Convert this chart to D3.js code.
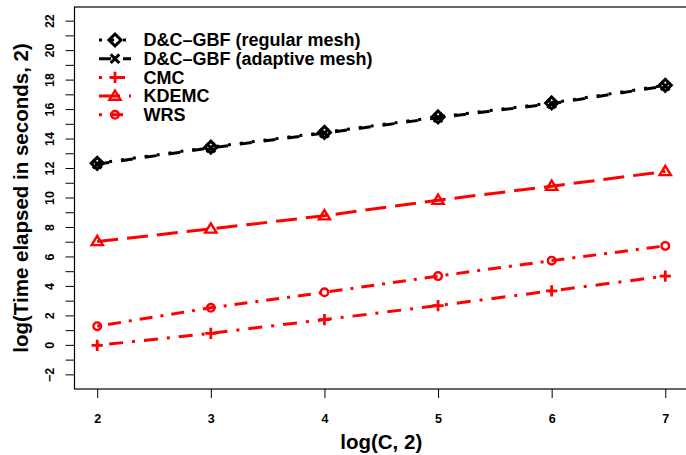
<!DOCTYPE html>
<html>
<head>
<meta charset="utf-8">
<script src="https://cdn.jsdelivr.net/npm/d3@7"></script>
<style>
  body { margin: 0; background: #fff; }
  svg { display: block; font-family: "Liberation Sans", Arial, sans-serif; font-weight: bold; }
</style>
</head>
<body>
<svg id="canvas"></svg>
<script>
// data
const cValues = [2, 3, 4, 5, 6, 7];
const regularMesh = [12.35, 13.45, 14.45, 15.5, 16.45, 17.65];
const adaptiveMesh = [12.3, 13.4, 14.4, 15.45, 16.4, 17.6];
const cmc = [0.0, 0.82, 1.75, 2.7, 3.7, 4.7];
const kdemc = [7.05, 7.9, 8.8, 9.85, 10.8, 11.8];
const wrs = [1.3, 2.55, 3.6, 4.7, 5.75, 6.75];

const seriesNames = ['D&C\u2013GBF (regular mesh)', 'D&C\u2013GBF (adaptive mesh)', 'CMC', 'KDEMC', 'WRS'];
const xTicks = [2, 3, 4, 5, 6, 7];
const yTicks = d3.range(-2, 23);

let width = 686;
let height = 455;
let plotLeft = 74.5, plotRight = 688, plotTop = 7, plotBottom = 389;

let canvas = d3.select('#canvas').attr('width', width).attr('height', height);

let xScale = d3.scaleLinear().domain([1.8, 7.2]).range([plotLeft, plotRight]);
let yScale = d3.scaleLinear().domain([-2.96, 22.96]).range([plotBottom, plotTop]);

// marker shapes (R pch 5, 4, 3, 2, 1)
const shapes = {
    diamond: { draw(ctx, s) { let r = 6; ctx.moveTo(0, -r); ctx.lineTo(r, 0); ctx.lineTo(0, r); ctx.lineTo(-r, 0); ctx.closePath(); } },
    cross: { draw(ctx, s) { let r = 4.3; ctx.moveTo(-r, -r); ctx.lineTo(r, r); ctx.moveTo(-r, r); ctx.lineTo(r, -r); } },
    plus: { draw(ctx, s) { let r = 5.6; ctx.moveTo(-r, 0); ctx.lineTo(r, 0); ctx.moveTo(0, -r); ctx.lineTo(0, r); } },
    triangle: { draw(ctx, s) { let r = 5.6; ctx.moveTo(0, -r); ctx.lineTo(r * 1.0, r * 0.65); ctx.lineTo(-r * 1.0, r * 0.65); ctx.closePath(); } },
    circle: { draw(ctx, s) { ctx.moveTo(3.8, 0); ctx.arc(0, 0, 3.8, 0, 2 * Math.PI); } }
};

const series = [
    { name: seriesNames[0], values: regularMesh, color: '#000000', dash: '3,9', shape: shapes.diamond, sw: 3 },
    { name: seriesNames[1], values: adaptiveMesh, color: '#000000', dash: '12,12', shape: shapes.cross, sw: 3 },
    { name: seriesNames[2], values: cmc, color: '#ff0000', dash: '3,9,14,9', shape: shapes.plus, sw: 2.8 },
    { name: seriesNames[3], values: kdemc, color: '#ff0000', dash: '21,9', shape: shapes.triangle, sw: 2.4 },
    { name: seriesNames[4], values: wrs, color: '#ff0000', dash: '3,8,13,8', shape: shapes.circle, sw: 2.4 }
];

// axes
let xAxis = d3.axisBottom(xScale).tickValues(xTicks).tickSize(9).tickFormat(d3.format('d'));
let yAxis = d3.axisLeft(yScale).tickValues(yTicks).tickSize(9)
    .tickFormat(d => d % 2 === 0 ? (d < 0 ? '\u2212' + (-d) : d) : '');

let gx = canvas.append('g').attr('transform', `translate(0, ${plotBottom})`).call(xAxis);
gx.select('.domain').remove();
gx.selectAll('line').attr('stroke', '#000');
gx.selectAll('text').attr('y', 0).attr('dy', null).attr('transform', 'translate(0, 34)')
    .style('font-size', '12.5px').style('font-family', 'Liberation Sans, Arial, sans-serif').style('font-weight', 'bold');

let gy = canvas.append('g').attr('transform', `translate(${plotLeft}, 0)`).call(yAxis);
gy.select('.domain').remove();
gy.selectAll('line').attr('stroke', '#000');
gy.selectAll('text')
    .attr('x', 0).attr('dy', null).attr('text-anchor', 'middle')
    .attr('transform', d => `translate(-20.5, ${yScale(d)}) rotate(-90)`)
    .attr('y', 0)
    .style('font-size', '12.5px').style('font-family', 'Liberation Sans, Arial, sans-serif').style('font-weight', 'bold');
gy.selectAll('.tick').attr('transform', null);
gy.selectAll('.tick line').attr('y1', d => yScale(d)).attr('y2', d => yScale(d));

// box
canvas.append('rect')
    .attr('x', plotLeft).attr('y', plotTop).attr('width', plotRight - plotLeft).attr('height', plotBottom - plotTop)
    .attr('fill', 'none').attr('stroke', '#000').attr('stroke-width', 1.2);

// titles
canvas.append('text').attr('x', (plotLeft + plotRight) / 2).attr('y', 449)
    .attr('text-anchor', 'middle').style('font-size', '20.5px').text('log(C, 2)');
canvas.append('text').attr('transform', `translate(28, ${(plotTop + plotBottom) / 2}) rotate(-90)`)
    .attr('text-anchor', 'middle').style('font-size', '20.5px').text('log(Time elapsed in seconds, 2)');

// lines and markers
let line = d3.line().x((d, i) => xScale(cValues[i])).y(d => yScale(d));
let plot = canvas.append('g');

series.forEach(s => {
    plot.append('path')
        .datum(s.values)
        .attr('d', line)
        .attr('fill', 'none')
        .attr('stroke', s.color)
        .attr('stroke-width', 3)
        .attr('stroke-dasharray', s.dash);
});

series.forEach(s => {
    plot.selectAll(null)
        .data(s.values)
        .enter()
        .append('path')
        .attr('d', d3.symbol().type(s.shape))
        .attr('transform', (d, i) => `translate(${xScale(cValues[i])}, ${yScale(d)})`)
        .attr('fill', 'none')
        .attr('stroke', s.color)
        .attr('stroke-width', s.sw);
});

// legend
let legend = canvas.append('g');
series.forEach((s, i) => {
    let y = 40 + i * 18.7;
    legend.append('line')
        .attr('x1', 99).attr('x2', 131).attr('y1', y).attr('y2', y)
        .attr('stroke', s.color).attr('stroke-width', 3).attr('stroke-dasharray', s.dash);
    legend.append('path')
        .attr('d', d3.symbol().type(s.shape))
        .attr('transform', `translate(115, ${y})`)
        .attr('fill', 'none').attr('stroke', s.color).attr('stroke-width', s.sw);
    legend.append('text')
        .attr('x', 143.5).attr('y', y + 6.3)
        .style('font-size', '18px')
        .text(s.name);
});
</script>
</body>
</html>
